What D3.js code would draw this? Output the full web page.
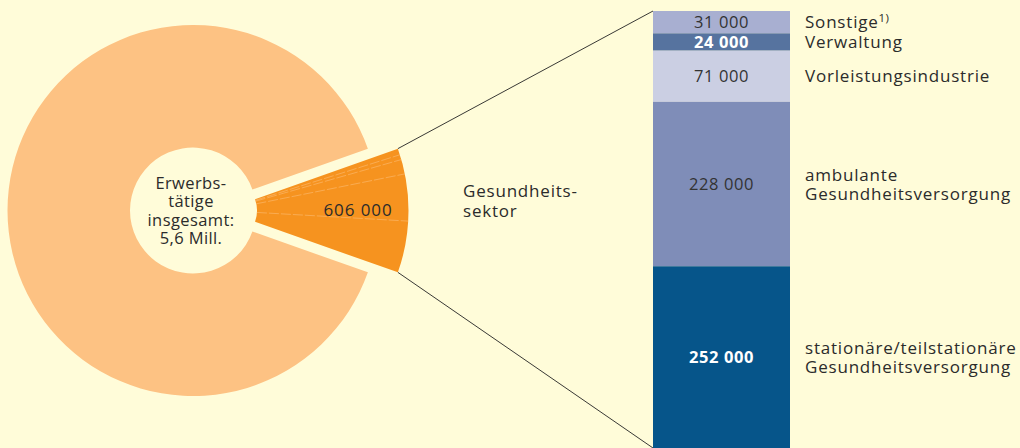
<!DOCTYPE html>
<html>
<head>
<meta charset="utf-8">
<script src="https://cdn.jsdelivr.net/npm/d3@7"></script>
<style>
  body { margin: 0; background: #fffcd9; }
  svg { display: block; font-family: "Open Sans", sans-serif; }
</style>
</head>
<body>
<div id="chart"></div>
<script>
// Daten
var totalEmployed = 5600000;
var sectorValue = 606000;
var sectorNames = ["Sonstige", "Verwaltung", "Vorleistungsindustrie", "ambulante Gesundheitsversorgung", "stationäre/teilstationäre Gesundheitsversorgung"];
var sectorLabels = [["Sonstige"], ["Verwaltung"], ["Vorleistungsindustrie"], ["ambulante", "Gesundheitsversorgung"], ["stationäre/teilstationäre", "Gesundheitsversorgung"]];
var sectorValues = [31000, 24000, 71000, 228000, 252000];
var barColors = ["#a8afd1", "#56739f", "#cbcfe3", "#7f8db8", "#06558a"];
var valueColors = ["#333", "#fff", "#333", "#333", "#fff"];
var valueBold = [false, true, false, false, true];
var centerText = ["Erwerbs-", "tätige", "insgesamt:", "5,6 Mill."];

function init() {
    var w = 1020;
    var h = 448;

    var cx = 193, cy = 210.5;
    var outerRadius = 185.5;
    var innerRadius = 63;
    var explode = 30;

    var svg = d3.select("#chart")
                .append("svg")
                .attr("width", w)
                .attr("height", h);

    svg.append("rect")
        .attr("width", w)
        .attr("height", h)
        .attr("fill", "#fffcd9");

    // Kreis: Rest + Gesundheitssektor, Sektor nach rechts zentriert
    var half = Math.PI * sectorValue / totalEmployed;
    var pie = d3.pie()
        .sort(null)
        .startAngle(Math.PI / 2 + half)
        .endAngle(Math.PI / 2 + half + 2 * Math.PI);
    var slices = pie([totalEmployed - sectorValue, sectorValue]);

    var arc = d3.arc()
        .innerRadius(innerRadius)
        .outerRadius(outerRadius);

    var g = svg.append("g")
        .attr("transform", "translate(" + cx + "," + cy + ")");

    g.append("path")
        .attr("d", arc(slices[0]))
        .attr("fill", "#fdc283");

    // herausgezogenes Segment
    var sector = slices[1];
    var mid = (sector.startAngle + sector.endAngle) / 2;
    var off = d3.pointRadial(mid, explode);
    var sg = g.append("g")
        .attr("transform", "translate(" + off[0] + "," + off[1] + ")");

    var arcSector = d3.arc()
        .innerRadius(34)
        .outerRadius(outerRadius);

    sg.append("path")
        .attr("d", arcSector(sector))
        .attr("fill", "#f6931f");

    // Unterteilung des Segments
    var subPie = d3.pie()
        .sort(null)
        .startAngle(sector.startAngle)
        .endAngle(sector.endAngle);
    var subs = subPie(sectorValues);

    sg.selectAll("line.sep")
        .data(subs.slice(1))
        .enter()
        .append("line")
        .attr("class", "sep")
        .attr("x1", function(d) { return d3.pointRadial(d.startAngle, 34)[0]; })
        .attr("y1", function(d) { return d3.pointRadial(d.startAngle, 34)[1]; })
        .attr("x2", function(d) { return d3.pointRadial(d.startAngle, outerRadius)[0]; })
        .attr("y2", function(d) { return d3.pointRadial(d.startAngle, outerRadius)[1]; })
        .attr("stroke", "#fcc78a")
        .attr("stroke-width", 0.6)
        .attr("stroke-opacity", 0.8)
        .attr("stroke-dasharray", "10,2");

    sg.append("text")
        .attr("x", 135)
        .attr("y", 0)
        .attr("dy", "0.35em")
        .attr("text-anchor", "middle")
        .attr("font-size", 17)
        .attr("letter-spacing", 0.9)
        .attr("fill", "#2b2b2b")
        .text(d3.format(",")(sectorValue).replace(/,/g, " "));

    // Mittentext
    g.append("text")
        .attr("y", -1.5 * 18.5)
        .attr("text-anchor", "middle")
        .attr("font-size", 16.5)
        .attr("letter-spacing", 0.4)
        .attr("fill", "#2b2b2b")
        .selectAll("tspan")
        .data(centerText)
        .enter()
        .append("tspan")
        .attr("x", -2)
        .attr("dy", function(d, i) { return i === 0 ? "0.35em" : 18.5; })
        .text(function(d) { return d; });

    // Balken
    var barX = 653, barW = 137;
    var y = d3.scaleLinear()
        .domain([0, d3.sum(sectorValues)])
        .range([11, 448]);

    var stack = [];
    var acc = 0;
    sectorValues.forEach(function(v, i) {
        stack.push({ i: i, y0: acc, y1: acc + v, v: v });
        acc += v;
    });

    // Verbindungslinien
    var pTop = d3.pointRadial(sector.startAngle, outerRadius);
    var pBot = d3.pointRadial(sector.endAngle, outerRadius);
    var lines = [
        [cx + off[0] + pTop[0], cy + off[1] + pTop[1], barX, y(0)],
        [cx + off[0] + pBot[0], cy + off[1] + pBot[1], barX, y(acc)]
    ];
    svg.selectAll("line.conn")
        .data(lines)
        .enter()
        .append("line")
        .attr("class", "conn")
        .attr("x1", function(d) { return d[0]; })
        .attr("y1", function(d) { return d[1]; })
        .attr("x2", function(d) { return d[2]; })
        .attr("y2", function(d) { return d[3]; })
        .attr("stroke", "#222")
        .attr("stroke-width", 0.9);

    var bars = svg.selectAll("g.seg")
        .data(stack)
        .enter()
        .append("g")
        .attr("class", "seg");

    bars.append("rect")
        .attr("x", barX)
        .attr("y", function(d) { return y(d.y0); })
        .attr("width", barW)
        .attr("height", function(d) { return y(d.y1) - y(d.y0); })
        .attr("fill", function(d) { return barColors[d.i]; });

    bars.append("text")
        .attr("x", barX + barW / 2)
        .attr("y", function(d) { return (y(d.y0) + y(d.y1)) / 2; })
        .attr("dy", "0.35em")
        .attr("text-anchor", "middle")
        .attr("font-size", 16.5)
        .attr("letter-spacing", 0.6)
        .attr("font-weight", function(d) { return valueBold[d.i] ? "bold" : "normal"; })
        .attr("fill", function(d) { return valueColors[d.i]; })
        .text(function(d) { return d3.format(",")(d.v).replace(/,/g, " "); });

    var lab = bars.append("text")
        .attr("x", 805)
        .attr("y", function(d) {
            var n = sectorLabels[d.i].length;
            return (y(d.y0) + y(d.y1)) / 2 - (n - 1) * 9.5;
        })
        .attr("font-size", 17)
        .attr("letter-spacing", 0.8)
        .attr("fill", "#2b2b2b");

    lab.selectAll("tspan")
        .data(function(d) { return sectorLabels[d.i]; })
        .enter()
        .append("tspan")
        .attr("x", 805)
        .attr("dy", function(d, i) { return i === 0 ? "0.35em" : 19; })
        .text(function(d) { return d; });

    // Fußnote an "Sonstige"
    lab.filter(function(d) { return d.i === 0; })
        .append("tspan")
        .attr("font-size", 11.5)
        .attr("letter-spacing", 0.3)
        .attr("dy", -6)
        .text("1)");

    // Gesundheitssektor Beschriftung
    svg.append("text")
        .attr("x", 463)
        .attr("y", 197)
        .attr("font-size", 17)
        .attr("letter-spacing", 0.8)
        .attr("fill", "#2b2b2b")
        .selectAll("tspan")
        .data(["Gesundheits-", "sektor"])
        .enter()
        .append("tspan")
        .attr("x", 463)
        .attr("dy", function(d, i) { return i === 0 ? 0 : 20; })
        .text(function(d) { return d; });
}

window.onload = init;
</script>
</body>
</html>
